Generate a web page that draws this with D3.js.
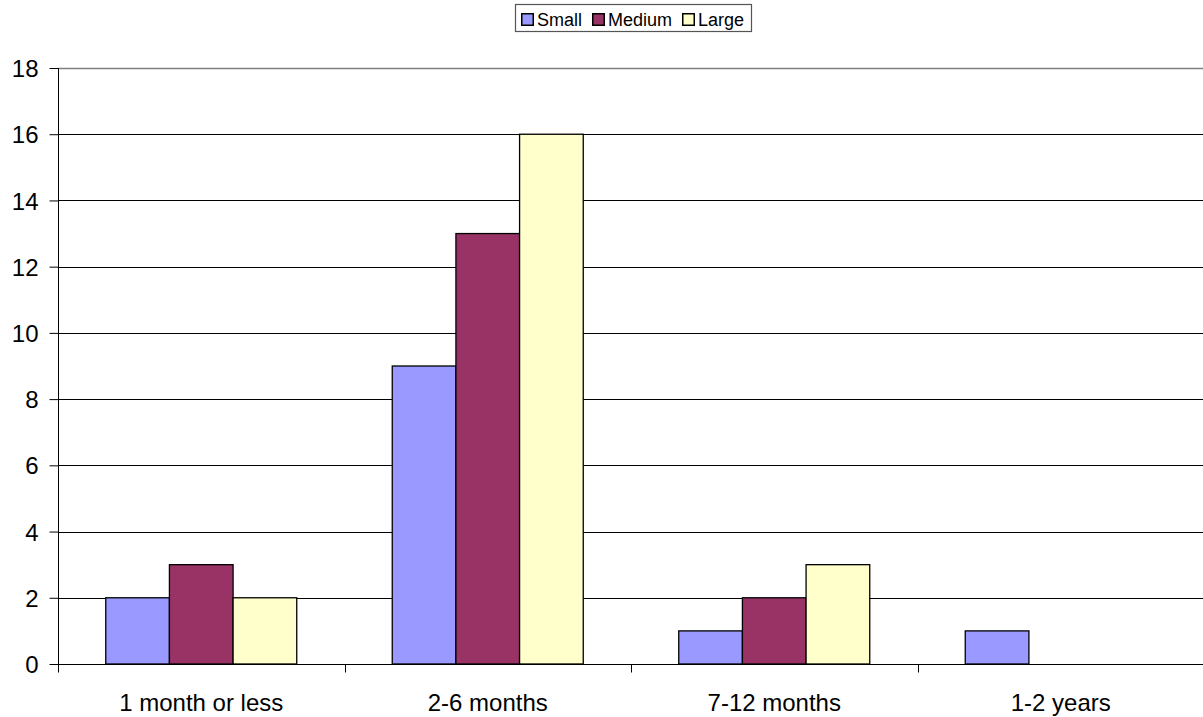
<!DOCTYPE html>
<html>
<head>
<meta charset="utf-8">
<script src="https://cdn.jsdelivr.net/npm/d3@7"></script>
<style>
  html, body { margin: 0; padding: 0; background: #fff; }
  svg { display: block; }
  text { font-family: "Liberation Sans", Arial, sans-serif; fill: #000; }
</style>
</head>
<body>
<svg id="chart" width="1203" height="717"></svg>
<script>
const categories = ["1 month or less", "2-6 months", "7-12 months", "1-2 years"];
const seriesNames = ["Small", "Medium", "Large"];
const smallValues = [2, 9, 1, 1];
const mediumValues = [3, 13, 2, 0];
const largeValues = [2, 16, 3, 0];
const yTicks = [0, 2, 4, 6, 8, 10, 12, 14, 16, 18];
const colors = ["#9999FF", "#993366", "#FFFFCC"];

const seriesValues = [smallValues, mediumValues, largeValues];

const svg = d3.select("#chart");
const margin = { left: 58, top: 68 };
const plotW = 1146;
const plotH = 596;

const g = svg.append("g").attr("transform", `translate(${margin.left},${margin.top})`);

const x0 = d3.scaleBand().domain(categories).range([0, plotW]).paddingInner(0).paddingOuter(0);
// Excel gap width 150%: bar width = band / (3 + 1.5)
const barW = x0.bandwidth() / 4.5;
const x1 = d3.scaleBand().domain(seriesNames).range([0, barW * 3]);
const y = d3.scaleLinear().domain([0, 18]).range([plotH, 0]);

// gridlines
g.append("g").selectAll("line").data(yTicks.filter(t => t > 0)).join("line")
  .attr("x1", 0).attr("x2", plotW)
  .attr("y1", d => Math.round(y(d)) + 0.5).attr("y2", d => Math.round(y(d)) + 0.5)
  .attr("stroke", d => d === 18 ? "#808080" : "#000").attr("stroke-width", d => d === 18 ? 1.5 : 1);

// bars
const groups = g.append("g").selectAll("g").data(categories).join("g")
  .attr("transform", d => `translate(${x0(d) + (x0.bandwidth() - barW * 3) / 2},0)`);
groups.selectAll("rect")
  .data((c, i) => seriesNames.map((s, j) => ({ s, j, v: seriesValues[j][i] })))
  .join("rect")
  .filter(d => d.v > 0)
  .attr("x", d => x1(d.s))
  .attr("y", d => y(d.v))
  .attr("width", x1.bandwidth())
  .attr("height", d => y(0) - y(d.v))
  .attr("fill", d => colors[d.j])
  .attr("stroke", "#000").attr("stroke-width", 1.3);

// y axis
const yAxis = d3.axisLeft(y).tickValues(yTicks).tickSize(9).tickPadding(11).tickFormat(d3.format("d"));
const yg = g.append("g").attr("transform", "translate(0.5,0)").call(yAxis);
yg.select(".domain").attr("stroke", "#000").attr("d", `M0,${plotH + 8}V0`);
yg.selectAll(".tick line").attr("stroke", "#000");
yg.selectAll(".tick text").style("font-size", "24px").attr("dy", "0.36em");

// x axis
const xg = g.append("g").attr("transform", `translate(0,${plotH + 0.5})`);
xg.append("line").attr("x1", 0).attr("x2", plotW).attr("stroke", "#000");
const bounds = categories.map(c => x0(c)).concat([plotW]);
xg.selectAll("line.tk").data(bounds).join("line").attr("class", "tk")
  .attr("x1", d => Math.round(d) + 0.5).attr("x2", d => Math.round(d) + 0.5)
  .attr("y1", 0).attr("y2", 8).attr("stroke", "#000");
xg.selectAll("text").data(categories).join("text")
  .attr("x", d => x0(d) + x0.bandwidth() / 2)
  .attr("y", 46)
  .attr("text-anchor", "middle")
  .style("font-size", "24px")
  .text(d => d);

// legend
const lg = svg.append("g").attr("transform", "translate(515,4)");
lg.append("rect").attr("x", 0.5).attr("y", 0.5).attr("width", 236).attr("height", 27)
  .attr("fill", "#fff").attr("stroke", "#555").attr("stroke-width", 1.2);
const squareX = [6, 77, 167];
seriesNames.forEach((s, j) => {
  const it = lg.append("g").attr("transform", `translate(${squareX[j]},0)`);
  it.append("rect").attr("x", 0.75).attr("y", 9.75).attr("width", 11.5).attr("height", 11.5)
    .attr("fill", colors[j]).attr("stroke", "#000").attr("stroke-width", 1.5);
  it.append("text").attr("x", 16).attr("y", 22).style("font-size", "18px").text(s);
});
</script>
</body>
</html>
